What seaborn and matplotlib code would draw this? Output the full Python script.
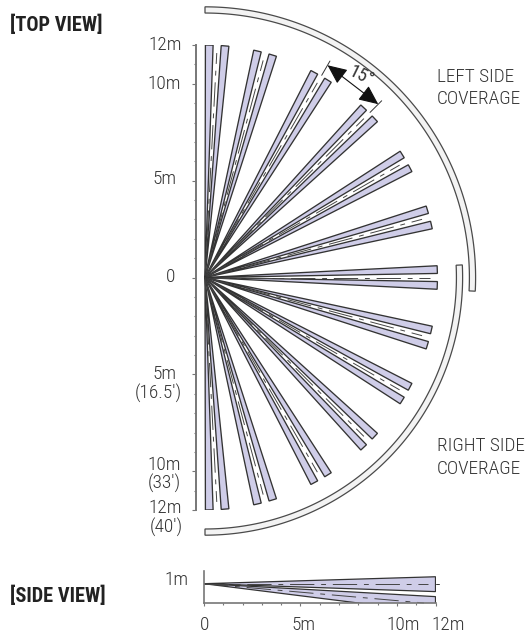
import matplotlib
matplotlib.use("Agg")
import matplotlib.pyplot as plt
import numpy as np
import pandas as pd
import seaborn as sns

# values, metres and degrees
BEAM_ANGLES = [87, 75, 60, 45, 30, 15, 0, -15, -30, -45, -60, -75, -87]
BEAM_RANGE = 12
BEAM_EDGES = [(1.0, 2.9), (-2.9, -1.0)]
CENTER_RANGE = 11.6
LEFT_ARC = (13.65, 13.97, -2.9, 90)
RIGHT_ARC = (12.98, 13.3, -90, 2.8)
Y_TICKS = list(range(-12, 13))
Y_LABELS = {12: "12m", 10: "10m", 5: "5m", 0: "0"}
SIDE_TICKS = list(range(0, 13))
SIDE_LABELS = {0: "0", 5: "5m", 10: "10m", 12: "12m"}
SIDE_BEAMS = [(1.36, 0.59), (0.33, -0.5)]
SIDE_CENTERS = [1.0, 0.0]

W, H = 525, 634
BEAM_FILL = "#cfcde8"
EDGE = "#333333"
TEXT = "#333333"
ROBOTO = ["Roboto Condensed", "Roboto", "DejaVu Sans"]
LABEL_FONT = dict(family=ROBOTO, weight="light", color=TEXT, fontsize=13.9)
HEAD_FONT = dict(family=ROBOTO, weight="bold", color="#222222", fontsize=14.7)

sns.set_theme(style="white")
plt.rcParams["font.family"] = ROBOTO
matplotlib.set_loglevel("error")


def px_axes(fig, left, top, right, bottom):
	return fig.add_axes([left / W, 1 - bottom / H, (right - left) / W, (bottom - top) / H])


def label(fig, x, y, s, ha="center", font=LABEL_FONT):
	fig.text(x / W, 1 - y / H, s, ha=ha, va="center", **font)


def polar(r, deg):
	a = np.radians(deg)
	return r * np.cos(a), r * np.sin(a)


def draw_arc(ax, r0, r1, a0, a1):
	angles = np.linspace(a0, a1, 200)
	x0, y0 = polar(r0, angles)
	x1, y1 = polar(r1, angles[::-1])
	ax.fill(np.r_[x0, x1], np.r_[y0, y1], facecolor="#f3f3f3", edgecolor="#4a4a4a", lw=0.9, clip_on=False, zorder=3)


def center_line(ax, x, y):
	df = pd.DataFrame({"x": x, "y": y})
	line = sns.lineplot(data=df, x="x", y="y", ax=ax, color="#444444", lw=0.7, sort=False, estimator=None, legend=False)
	line.lines[-1].set_dashes((25, 7, 5, 7))
	line.lines[-1].set_clip_on(False)


fig = plt.figure(figsize=(W / 100, H / 100), dpi=100)

# top view: left spine sits at x=196, 12m spans 45..510 px
ax = px_axes(fig, 196, 45, 480, 510)
ax.set_ylim(-12, 12)
ax.set_xlim(-9 / 19.37, 275 / 19.37)
ax.set_yticks(Y_TICKS)
ax.set_yticklabels([])
ax.set_xticks([])
ax.tick_params(axis="y", length=1.8, width=0.8, color="#777777", left=True)
for t, y in zip(ax.yaxis.get_major_ticks(), Y_TICKS):
	if abs(y) in Y_LABELS:
		t.tick1line.set_markersize(3.2)

for center in BEAM_ANGLES:
	for lo, hi in BEAM_EDGES:
		x, y = polar(BEAM_RANGE, np.array([center + lo, center + hi]))
		ax.fill(np.r_[0, x], np.r_[0, y], facecolor=BEAM_FILL, edgecolor=EDGE, lw=0.95, joinstyle="miter", zorder=2)
	x, y = polar(np.array([0, CENTER_RANGE]), center)
	center_line(ax, x, y)
ax.set_xlabel("")
ax.set_ylabel("")

draw_arc(ax, *LEFT_ARC)
draw_arc(ax, *RIGHT_ARC)

# 15 degree dimension between the 30 and 45 degree pairs
for deg in (60, 45):
	x, y = polar(np.array([12.05, 12.9]), deg)
	ax.plot(x, y, color=EDGE, lw=0.7, clip_on=False)
ax.annotate("", xy=polar(12.65, 45), xytext=polar(12.65, 60), annotation_clip=False,
	arrowprops=dict(arrowstyle="<|-|>,head_length=0.8,head_width=0.36", mutation_scale=15, color="#111111",
		lw=0.8, shrinkA=0, shrinkB=0))
ax.text(*polar(13.15, 52.3), "15°", rotation=-26, ha="center", va="center", family=ROBOTO,
	color=TEXT, fontsize=13.5, clip_on=False, zorder=6)
sns.despine(ax=ax, top=True, right=True, bottom=True)
ax.spines["left"].set_color("#777777")
ax.spines["left"].set_linewidth(1.4)
ax.patch.set_alpha(0)

label(fig, 182, 45, "12m", "right")
label(fig, 181, 84, "10m", "right")
label(fig, 176, 179, "5m", "right")
label(fig, 175, 277, "0", "right")
label(fig, 176, 374, "5m", "right")
label(fig, 182, 393, "(16.5′)", "right")
label(fig, 181, 465, "10m", "right")
label(fig, 181, 483, "(33′)", "right")
label(fig, 182, 508, "12m", "right")
label(fig, 183, 527, "(40′)", "right")
label(fig, 437, 77, "LEFT SIDE", "left")
label(fig, 437, 99, "COVERAGE", "left")
label(fig, 437, 446, "RIGHT SIDE", "left")
label(fig, 437, 469, "COVERAGE", "left")
label(fig, 10, 25, "[TOP VIEW]", "left", HEAD_FONT)
label(fig, 10, 596, "[SIDE VIEW]", "left", HEAD_FONT)

# side view: 0..12m spans 204..435 px, ground at y=603
side = px_axes(fig, 204, 571, 435.5, 603)
side.set_xlim(0, 12)
side.set_ylim(0, 32 / 19.3)
side.set_xticks(SIDE_TICKS)
side.set_xticklabels([])
side.set_yticks([])
side.tick_params(axis="x", length=1.5, width=0.8, color="#777777", bottom=True)
for t, x in zip(side.xaxis.get_major_ticks(), SIDE_TICKS):
	if x in SIDE_LABELS:
		t.tick1line.set_markersize(2.4)
for hi, lo in SIDE_BEAMS:
	side.fill([0, 12, 12], [1, hi, lo], facecolor=BEAM_FILL, edgecolor=EDGE, lw=0.9, zorder=2)
for y_end, x_end in zip(SIDE_CENTERS, (11.6, 11.4)):
	center_line(side, [0, x_end], [1, y_end])
side.set_xlabel("")
side.set_ylabel("")
side.plot([12, 12.2], [1, 1], color=EDGE, lw=0.7, clip_on=False)
sns.despine(ax=side, top=True, right=True)
for sp in ("left", "bottom"):
	side.spines[sp].set_color("#777777")
	side.spines[sp].set_linewidth(1.2)
side.patch.set_alpha(0)

label(fig, 188, 580, "1m", "right")
label(fig, 205, 625.5, "0")
label(fig, 303, 625.5, "5m")
label(fig, 403, 625.5, "10m")
label(fig, 448, 625.5, "12m")

fig.savefig("out.png", dpi=100)
plt.close(fig)
